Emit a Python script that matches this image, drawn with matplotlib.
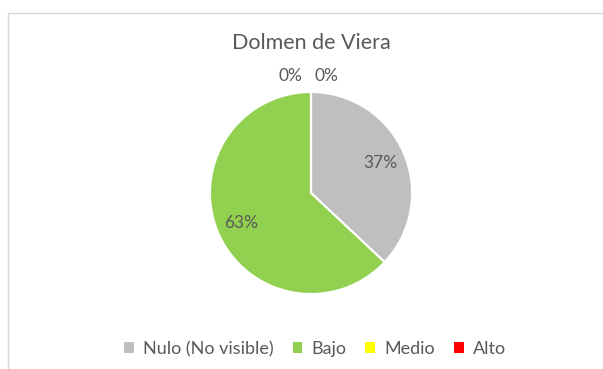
import matplotlib.pyplot as plt
from matplotlib.patches import Rectangle, Patch

# data
categorias = ["Nulo (No visible)", "Bajo", "Medio", "Alto"]
valores = [37, 63, 0, 0]
colores = ["#BFBFBF", "#92D050", "#FFFF00", "#FF0000"]

plt.rcParams['font.family'] = ['Lato', 'DejaVu Sans']
texto = "#595959"

fig = plt.figure(figsize=(6.03, 3.69), dpi=100)

# chart area border (only top/left visible)
fig.patches.append(Rectangle((8 / 603, -0.1), 1.2, (369 - 13) / 369 + 0.1,
                             transform=fig.transFigure, fill=False,
                             edgecolor="#D9D9D9", linewidth=1.0))

ax = fig.add_axes([(311 - 101) / 603, (369 - 294) / 369, 202 / 603, 202 / 369])
wedges, txts, pcts = ax.pie(valores, colors=colores, startangle=90, counterclock=False,
                            autopct="%1.0f%%", pctdistance=0.75,
                            wedgeprops=dict(edgecolor="white", linewidth=1.5),
                            textprops=dict(color=texto, fontsize=12.5))
ax.set_xlim(-1, 1)
ax.set_ylim(-1, 1)
ax.set_aspect("equal")
ax.axis("off")

# the empty slices sit at the top, push their labels above the pie
ceros = [i for i, v in enumerate(valores) if v == 0]
for k, i in enumerate(ceros):
    pcts[i].set_position((-0.2 + 0.35 * k, 1.16))
for p in pcts:
    p.set_clip_on(False)

fig.text(311 / 603, 1 - 43 / 369, "Dolmen de Viera", ha="center", va="center",
         fontsize=15.5, color=texto)

handles = [Patch(facecolor=c, edgecolor="none") for c in colores]
fig.legend(handles, categorias, loc="center", bbox_to_anchor=(315 / 603, 1 - 349 / 369),
           ncol=4, frameon=False, fontsize=13, labelcolor=texto,
           handlelength=0.55, handleheight=0.55, handletextpad=0.5, columnspacing=1.05)

fig.savefig("out.png", dpi=100)
